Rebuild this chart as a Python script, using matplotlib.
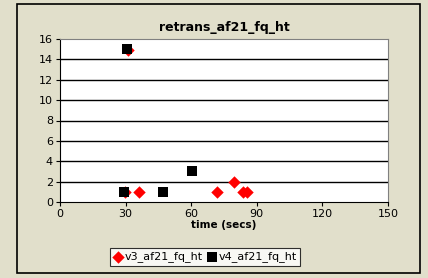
import matplotlib
matplotlib.use("Agg")
import matplotlib.pyplot as plt
from matplotlib.patches import Rectangle

title = "retrans_af21_fq_ht"
xlabel = "time (secs)"
v3_name = "v3_af21_fq_ht"
v4_name = "v4_af21_fq_ht"
v3_x = [29.8, 31.0, 36.3, 71.6, 79.7, 83.7, 85.5]
v3_y = [1, 14.9, 1, 1, 2, 1, 1]
v4_x = [29.3, 30.8, 47.1, 60.2]
v4_y = [1, 15, 1, 3]
xticks = [0, 30, 60, 90, 120, 150]
yticks = [0, 2, 4, 6, 8, 10, 12, 14, 16]

bg = "#E1DFCB"
fig = plt.figure(figsize=(4.28, 2.78), dpi=100, facecolor=bg)
fig.patches.append(Rectangle((17/428, 1-273/278), (420-17)/428, (273-4)/278,
                             transform=fig.transFigure, fill=False,
                             edgecolor="black", linewidth=1.2))
ax = fig.add_axes([60/428, 1-202/278, 328/428, 163/278])
ax.set_facecolor("white")
ax.set_xlim(0, 150)
ax.set_ylim(0, 16)
ax.set_xticks(xticks)
ax.set_yticks(yticks)
for y in yticks[1:-1]:
    ax.axhline(y, color="black", linewidth=1.0, zorder=1)
for s in ["top", "right"]:
    ax.spines[s].set_color("#808080")
for s in ["left", "bottom"]:
    ax.spines[s].set_color("black")
ax.tick_params(axis="both", labelsize=8, length=3, direction="out", pad=2)
ax.scatter(v3_x, v3_y, marker="D", s=40, color="red", zorder=3, label=v3_name, linewidths=0)
ax.scatter(v4_x, v4_y, marker="s", s=50, color="black", zorder=4, label=v4_name, linewidths=0)
ax.set_title(title, fontsize=9, fontweight="bold", pad=6)
ax.set_xlabel(xlabel, fontsize=7.5, fontweight="bold", labelpad=1)
leg = fig.legend(loc="center", bbox_to_anchor=(205/428, 1-257/278), ncol=2,
                 fontsize=8, frameon=True, fancybox=False, edgecolor="black",
                 handletextpad=0.1, columnspacing=0.3, borderpad=0.3,
                 handlelength=1.0, borderaxespad=0)
leg.get_frame().set_linewidth(0.8)
fig.savefig("out.png", dpi=100, facecolor=bg)
